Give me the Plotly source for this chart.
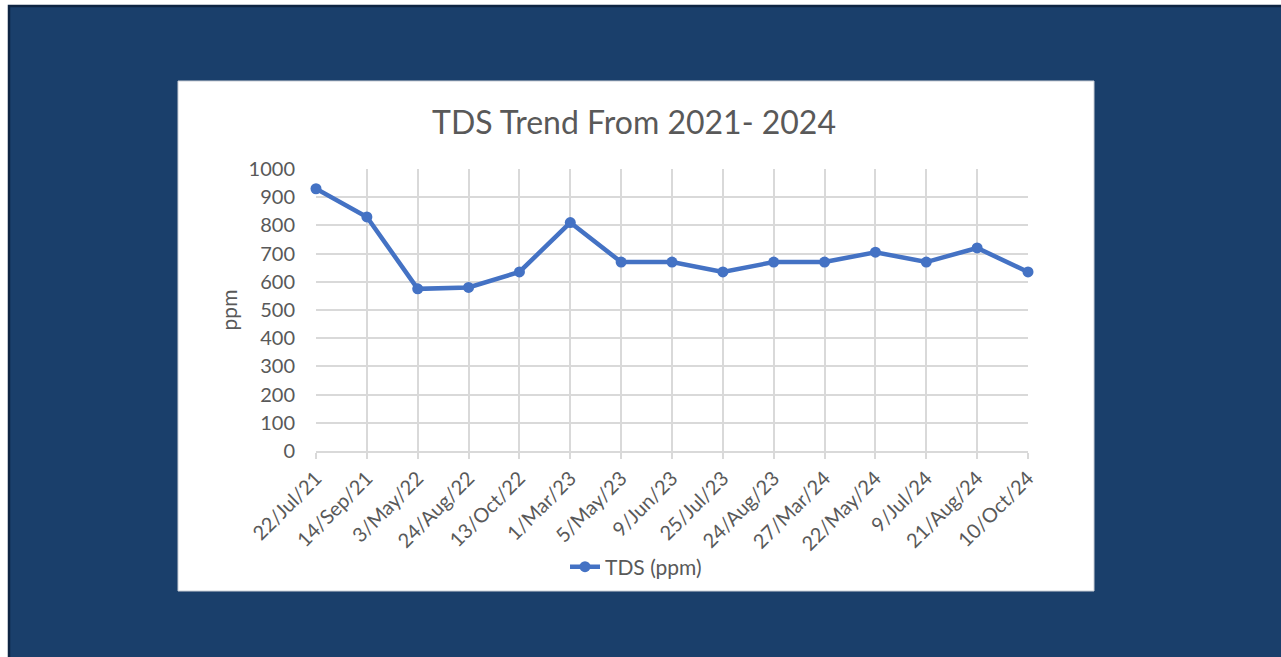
import plotly.graph_objects as go

# TDS readings by sampling date
dates = ["22/Jul/21", "14/Sep/21", "3/May/22", "24/Aug/22", "13/Oct/22",
         "1/Mar/23", "5/May/23", "9/Jun/23", "25/Jul/23", "24/Aug/23",
         "27/Mar/24", "22/May/24", "9/Jul/24", "21/Aug/24", "10/Oct/24"]
tds_ppm = [930, 830, 575, 580, 635, 810, 670, 670, 635, 670, 670, 705, 670, 720, 635]
y_ticks = list(range(0, 1001, 100))

W, H = 1281, 657
# plot area in pixels
PL, PR, PT, PB = 316, 1028, 169, 451
pw, ph = PR - PL, PB - PT


def px_x(x):
    return (x - PL) / pw


def px_y(y):
    return (PB - y) / ph


NAVY = "#1a3f6b"
GREY_TXT = "#595959"
GRID = "#d9d9d9"
BLUE = "#4472c4"

idx = list(range(len(dates)))

fig = go.Figure()
fig.add_trace(go.Scatter(
    x=idx, y=tds_ppm, mode="lines+markers", name="TDS (ppm)",
    line=dict(color=BLUE, width=4.5),
    marker=dict(color=BLUE, size=11),
    cliponaxis=False,
))

shapes = [
    # navy slide background with dark edge
    dict(type="rect", xref="paper", yref="paper", layer="below",
         x0=px_x(9), x1=px_x(W + 10), y0=px_y(H + 10), y1=px_y(6),
         fillcolor=NAVY, line=dict(color="#0e2543", width=2.5)),
    # white chart card
    dict(type="rect", xref="paper", yref="paper", layer="below",
         x0=px_x(178), x1=px_x(1094), y0=px_y(591), y1=px_y(81),
         fillcolor="white", line=dict(color="#c9ced6", width=1)),
]

fig.update_layout(
    width=W, height=H,
    paper_bgcolor="white", plot_bgcolor="white",
    margin=dict(l=PL, r=W - PR, t=PT, b=H - PB, pad=0),
    font=dict(family="Lato, 'Open Sans', sans-serif", color=GREY_TXT, size=20),
    title=dict(text="TDS Trend From 2021- 2024", x=px_x(634), xref="paper",
               xanchor="center", y=1 - 123 / H, yanchor="middle",
               font=dict(size=32, color=GREY_TXT)),
    shapes=shapes,
    showlegend=True,
    legend=dict(orientation="h", x=px_x(636), xanchor="center",
                y=px_y(567), yanchor="middle", bgcolor="rgba(0,0,0,0)",
                font=dict(size=21, color=GREY_TXT)),
    xaxis=dict(
        range=[0, len(dates) - 1], tickmode="array", tickvals=idx, ticktext=dates,
        tickangle=-45, showgrid=True, gridcolor=GRID, gridwidth=1.5,
        ticks="outside", ticklen=6, tickcolor=GRID, tickwidth=1.5,
        showline=True, linecolor=GRID, linewidth=1.5, zeroline=False,
        tickfont=dict(size=20, color=GREY_TXT), fixedrange=True,
    ),
    yaxis=dict(
        range=[0, 1000], tickmode="array", tickvals=y_ticks,
        showgrid=True, gridcolor=GRID, gridwidth=1.5, zeroline=False,
        showline=False, ticks="", ticklabelstandoff=20,
        tickfont=dict(size=20, color=GREY_TXT),
        title=dict(text="ppm", standoff=5, font=dict(size=21, color=GREY_TXT)),
        fixedrange=True,
    ),
)

fig.write_html("out.html")
